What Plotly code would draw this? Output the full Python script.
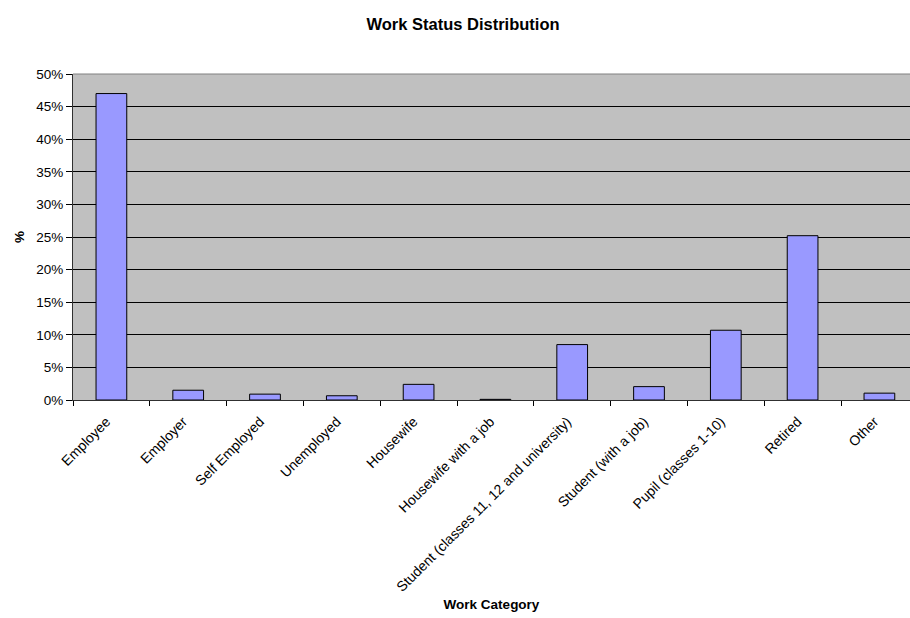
import plotly.graph_objects as go

# Share of respondents by work category (percent)
categories = [
    "Employee",
    "Employer",
    "Self Employed",
    "Unemployed",
    "Housewife",
    "Housewife with a job",
    "Student (classes 11, 12 and university)",
    "Student (with a job)",
    "Pupil (classes 1-10)",
    "Retired",
    "Other",
]
shares = [47.0, 1.5, 0.9, 0.65, 2.4, 0.1, 8.5, 2.05, 10.7, 25.2, 1.05]

y_ticks = [0, 5, 10, 15, 20, 25, 30, 35, 40, 45, 50]
y_tick_text = [f"{v}%" for v in y_ticks]

FONT = "Liberation Sans, Arial, sans-serif"

fig = go.Figure(
    go.Bar(
        x=categories,
        y=shares,
        width=0.4,
        marker=dict(color="#9999FF", line=dict(color="black", width=1)),
        hoverinfo="x+y",
    )
)

fig.update_layout(
    width=910,
    height=618,
    margin=dict(l=73, r=0, t=74, b=218),
    paper_bgcolor="white",
    plot_bgcolor="#C0C0C0",
    showlegend=False,
    font=dict(family=FONT, size=13, color="black"),
    title=dict(
        text="<b>Work Status Distribution</b>",
        font=dict(family=FONT, size=16.5, color="black"),
        x=463 / 910,
        xanchor="center",
        y=1 - 24 / 618,
        yanchor="middle",
    ),
    xaxis=dict(
        type="category",
        range=[-0.5, -0.5 + 837 / 76.8],
        tickangle=-45,
        tickson="boundaries",
        ticks="outside",
        ticklen=5,
        tickcolor="black",
        ticklabelstandoff=7,
        ticklabelshift=-5,
        showgrid=False,
        showline=True,
        linecolor="#303030",
        linewidth=1,
        tickfont=dict(family=FONT, size=14, color="black"),
        title=dict(
            text="<b>Work Category</b>",
            font=dict(family=FONT, size=13.5, color="black"),
            standoff=5,
        ),
    ),
    yaxis=dict(
        range=[0, 50],
        tickvals=y_ticks,
        ticktext=y_tick_text,
        ticks="outside",
        ticklen=6,
        tickcolor="black",
        showgrid=True,
        gridcolor="black",
        gridwidth=1,
        zeroline=False,
        showline=True,
        linecolor="#303030",
        linewidth=1,
        tickfont=dict(family=FONT, size=13.5, color="black"),
        title=dict(
            text="<b>%</b>",
            font=dict(family=FONT, size=13.5, color="black"),
            standoff=8,
        ),
    ),
    shapes=[
        dict(
            type="line",
            xref="paper",
            yref="paper",
            x0=0,
            x1=1,
            y0=1,
            y1=1,
            line=dict(color="#808080", width=1),
            layer="above",
        )
    ],
)

fig.write_html("out.html")
